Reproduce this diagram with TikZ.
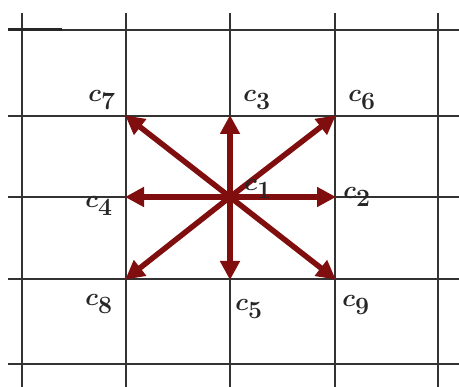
\documentclass[tikz,border=0pt]{standalone}
\usetikzlibrary{arrows.meta}
\begin{document}
\begin{tikzpicture}[x=1pt,y=-1pt,
  gridline/.style={line width=2.6pt,draw=black!80},
  vec/.style={line width=5.5pt,draw=arrowred,-{Triangle[length=19pt,width=19pt]},shorten >=-1pt},
  lab/.style={inner sep=0pt,font=\fontsize{40}{42}\selectfont\boldmath,text=black!85}]
\definecolor{arrowred}{RGB}{128,14,14}
\useasboundingbox (0,0) rectangle (459,387);
% grid
\foreach \x in {22,126,230,335,438} \draw[gridline] (\x,13) -- (\x,390);
\foreach \y in {30,116,197,279,364} \draw[gridline] (8,\y) -- (462,\y);
\draw[line width=3pt,draw=black!85] (8,29.5) -- (62,29.5);
% points
\coordinate (o) at (230,197);
\coordinate (p7) at (126,116);
\coordinate (p3) at (230,116);
\coordinate (p6) at (335,116);
\coordinate (p4) at (126,197);
\coordinate (p2) at (335,197);
\coordinate (p8) at (126,279);
\coordinate (p5) at (230,279);
\coordinate (p9) at (335,279);
\foreach \p in {p7,p3,p6,p4,p2,p8,p5,p9} \draw[vec] (o) -- (\p);
% labels
\node[lab] (l7) at (102,100) {$c_{7}$};
\node[lab] (l3) at (257,100) {$c_{3}$};
\node[lab] (l6) at (362,100) {$c_{6}$};
\node[lab] (l4) at (99,206) {$c_{4}$};
\node[lab] (l1) at (258,189) {$c_{1}$};
\node[lab] (l2) at (357,197) {$c_{2}$};
\node[lab] (l8) at (99,304) {$c_{8}$};
\node[lab] (l5) at (249,309) {$c_{5}$};
\node[lab] (l9) at (356,305) {$c_{9}$};
\end{tikzpicture}
\end{document}
